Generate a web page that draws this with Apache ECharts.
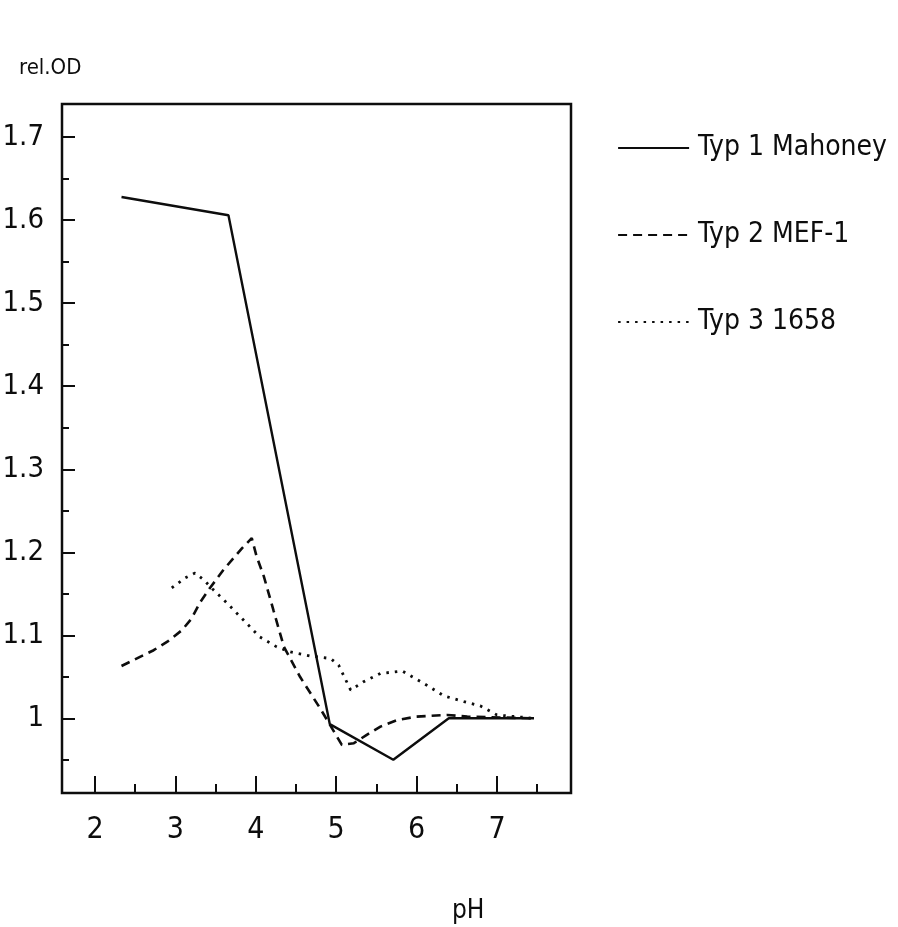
<!DOCTYPE html>
<html>
<head>
<meta charset="utf-8">
<script src="https://cdn.jsdelivr.net/npm/echarts@6/dist/echarts.min.js"></script>
<style>
html,body{margin:0;padding:0;background:#fff;}
#chart{width:898px;height:927px;}
</style>
</head>
<body>
<div id="chart"></div>
<script>
// ---- data ----
const seriesNames = ['Typ 1 Mahoney', 'Typ 2 MEF-1', 'Typ 3 1658'];

const typ1X = [2.33, 3.66, 4.92, 5.71, 6.40, 7.46];
const typ1Y = [1.628, 1.606, 0.993, 0.950, 1.000, 1.000];

const typ2X = [2.33, 2.73, 2.91, 3.08, 3.20, 3.31, 3.43, 3.60, 3.83, 3.95, 4.01, 4.10, 4.22, 4.35, 4.55, 4.80, 5.07, 5.22, 5.38, 5.55, 5.76, 6.00, 6.38, 6.63, 7.46];
const typ2Y = [1.063, 1.082, 1.093, 1.106, 1.120, 1.140, 1.157, 1.179, 1.205, 1.217, 1.195, 1.171, 1.130, 1.086, 1.050, 1.012, 0.968, 0.970, 0.980, 0.990, 0.998, 1.002, 1.004, 1.002, 1.000];

const typ3X = [2.955, 3.12, 3.245, 3.35, 3.47, 3.64, 3.85, 4.05, 4.26, 4.43, 4.68, 4.93, 5.03, 5.18, 5.34, 5.55, 5.82, 6.09, 6.34, 6.59, 6.79, 7.00, 7.46];
const typ3Y = [1.157, 1.169, 1.175, 1.167, 1.155, 1.139, 1.118, 1.098, 1.086, 1.080, 1.075, 1.072, 1.064, 1.034, 1.044, 1.054, 1.057, 1.042, 1.027, 1.020, 1.015, 1.004, 1.000];

const xMajorTicks = [2, 3, 4, 5, 6, 7];
const xMinorTicks = [2.5, 3.5, 4.5, 5.5, 6.5, 7.5];
const yMajorTicks = [1, 1.1, 1.2, 1.3, 1.4, 1.5, 1.6, 1.7];
const yMinorTicks = [0.95, 1.05, 1.15, 1.25, 1.35, 1.45, 1.55, 1.65];
const yLabels = ['1', '1.1', '1.2', '1.3', '1.4', '1.5', '1.6', '1.7'];

const X_MIN = 1.59, X_MAX = 7.92, Y_MIN = 0.91, Y_MAX = 1.74;

// ---- chart ----
const FONT = "'Liberation Sans Narrow', 'DejaVu Sans Condensed', 'Liberation Sans', sans-serif";
const INK = '#0d0d0d';
const pair = (xs, ys) => xs.map((x, i) => [x, ys[i]]);

const chart = echarts.init(document.getElementById('chart'), null, {renderer: 'canvas'});

const baseX = {type: 'value', min: X_MIN, max: X_MAX, position: 'bottom', axisLine: {show: false}, splitLine: {show: false}, gridIndex: 0};
const baseY = {type: 'value', min: Y_MIN, max: Y_MAX, position: 'left', axisLine: {show: false}, splitLine: {show: false}, gridIndex: 0};

chart.setOption({
  animation: false,
  backgroundColor: '#fff',
  title: [
    {text: 'rel.OD', left: 14, top: 52, textStyle: {fontFamily: FONT, fontSize: 22, fontWeight: 'normal', color: INK}},
    {text: 'pH', left: 447, top: 893, textStyle: {fontFamily: FONT, fontSize: 26, fontWeight: 'normal', color: INK}}
  ],
  grid: {left: 62, right: 327, top: 104, bottom: 134, show: true, borderColor: INK, borderWidth: 2.5,
    backgroundColor: 'transparent', outerBoundsMode: 'none', containLabel: false},
  legend: {
    orient: 'vertical', left: 612, top: 128, itemWidth: 71, itemHeight: 14, itemGap: 57,
    data: seriesNames,
    itemStyle: {opacity: 0},
    lineStyle: {width: 2.2},
    textStyle: {fontFamily: FONT, fontSize: 28, color: INK, padding: [0, 0, 0, 4], lineHeight: 30}
  },
  xAxis: [
    Object.assign({}, baseX, {
      axisTick: {show: true, inside: true, length: 17, customValues: xMajorTicks, lineStyle: {color: INK, width: 2}},
      axisLabel: {show: true, customValues: xMajorTicks, margin: 22, fontFamily: FONT, fontSize: 30, color: INK}
    }),
    Object.assign({}, baseX, {
      axisTick: {show: true, inside: true, length: 9, customValues: xMinorTicks, lineStyle: {color: INK, width: 2}},
      axisLabel: {show: false}
    })
  ],
  yAxis: [
    Object.assign({}, baseY, {
      axisTick: {show: true, inside: true, length: 13, customValues: yMajorTicks, lineStyle: {color: INK, width: 2}},
      axisLabel: {show: true, customValues: yMajorTicks, margin: 18, fontFamily: FONT, fontSize: 29, color: INK,
        formatter: v => yLabels[yMajorTicks.findIndex(t => Math.abs(t - v) < 1e-6)] ?? ''}
    }),
    Object.assign({}, baseY, {
      axisTick: {show: true, inside: true, length: 7, customValues: yMinorTicks, lineStyle: {color: INK, width: 2}},
      axisLabel: {show: false}
    })
  ],
  series: [
    {name: seriesNames[0], type: 'line', xAxisIndex: 0, yAxisIndex: 0, symbol: 'none', data: pair(typ1X, typ1Y),
      lineStyle: {color: INK, width: 2.4, type: 'solid'}, itemStyle: {color: INK}},
    {name: seriesNames[1], type: 'line', xAxisIndex: 0, yAxisIndex: 0, symbol: 'none', data: pair(typ2X, typ2Y),
      lineStyle: {color: INK, width: 2.6, type: [9, 6]}, itemStyle: {color: INK}},
    {name: seriesNames[2], type: 'line', xAxisIndex: 0, yAxisIndex: 0, symbol: 'none', data: pair(typ3X, typ3Y),
      lineStyle: {color: INK, width: 2.8, type: [2.5, 6]}, itemStyle: {color: INK}}
  ]
});
</script>
</body>
</html>
